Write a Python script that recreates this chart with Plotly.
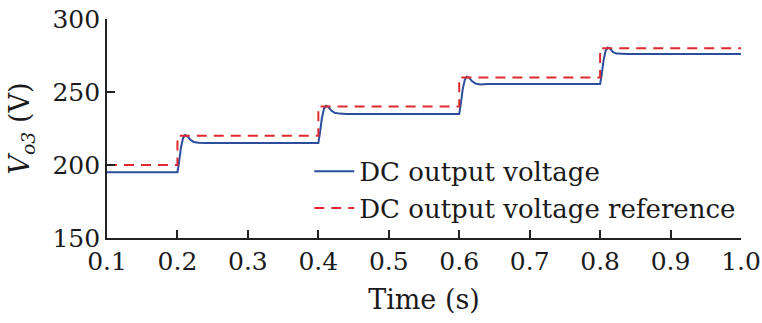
import plotly.graph_objects as go

# Reference voltage (step profile)
ref_t = [0.1, 0.2, 0.2, 0.4, 0.4, 0.6, 0.6, 0.8, 0.8, 1.0]
ref_v = [200, 200, 220, 220, 240, 240, 260, 260, 280, 280]

out_t = [0.1, 0.2, 0.202, 0.205, 0.208, 0.211, 0.214, 0.218, 0.223, 0.23, 0.24,
         0.4, 0.402, 0.405, 0.408, 0.411, 0.414, 0.418, 0.423, 0.43, 0.44,
         0.6, 0.602, 0.605, 0.608, 0.611, 0.614, 0.618, 0.623, 0.63, 0.64,
         0.8, 0.802, 0.805, 0.808, 0.811, 0.814, 0.818, 0.823, 0.83, 0.84, 1.0]
out_v = [195, 195, 201, 212, 218.5, 220.5, 219.8, 217.5, 215.8, 215.2, 215,
         215, 221, 232, 238.5, 240.5, 239.8, 237.5, 235.8, 235.2, 235,
         235, 241, 252, 258.5, 260.5, 259.8, 257.5, 255.8, 255.2, 255.5,
         255.5, 261, 272, 278.5, 280.5, 279.8, 277.5, 276.3, 276, 276, 276]

x_ticks = [0.1, 0.2, 0.3, 0.4, 0.5, 0.6, 0.7, 0.8, 0.9, 1.0]
x_labels = ["0.1", "0.2", "0.3", "0.4", "0.5", "0.6", "0.7", "0.8", "0.9", "1.0"]
y_ticks = [150, 200, 250, 300]

FONT = "DejaVu Serif, Liberation Serif, serif"
TXT = "#1a1a1a"
BLUE = "#2b4d9c"
RED = "#de2a30"

fig = go.Figure()
fig.add_trace(go.Scatter(x=out_t, y=out_v, mode="lines", name="DC output voltage",
                         line=dict(color=BLUE, width=2)))
fig.add_trace(go.Scatter(x=ref_t, y=ref_v, mode="lines", name="DC output voltage reference",
                         line=dict(color=RED, width=2, dash="10px,7px")))

fig.update_layout(
    width=762, height=323,
    margin=dict(l=107, r=21, t=19, b=85, autoexpand=False),
    paper_bgcolor="white", plot_bgcolor="white",
    font=dict(family=FONT, size=25, color=TXT),
    showlegend=True,
    legend=dict(x=0.319, y=0.412, xanchor="left", yanchor="top",
                bgcolor="rgba(0,0,0,0)", font=dict(family=FONT, size=26, color=TXT),
                tracegroupgap=0, itemwidth=40),
    xaxis=dict(range=[0.1, 1.0], tickvals=x_ticks, ticktext=x_labels,
               ticks="inside", ticklen=8, tickwidth=1.5, tickcolor="#222",
               showline=True, linecolor="#222", linewidth=1.8,
               showgrid=False, zeroline=False, automargin=False,
               title=dict(text="Time (s)",
                          font=dict(family=FONT, size=27, color=TXT)),
               tickfont=dict(family=FONT, size=25, color=TXT)),
    yaxis=dict(range=[150, 300], tickvals=y_ticks,
               ticks="inside", ticklen=8, tickwidth=1.5, tickcolor="#222",
               showline=True, linecolor="#222", linewidth=1.8,
               showgrid=False, zeroline=False, automargin=False,
               title=dict(text="<i>V</i><sub><i>o3</i></sub> (V)",
                          font=dict(family=FONT, size=27, color=TXT)),
               tickfont=dict(family=FONT, size=25, color=TXT)),
)

fig.write_html("out.html")
